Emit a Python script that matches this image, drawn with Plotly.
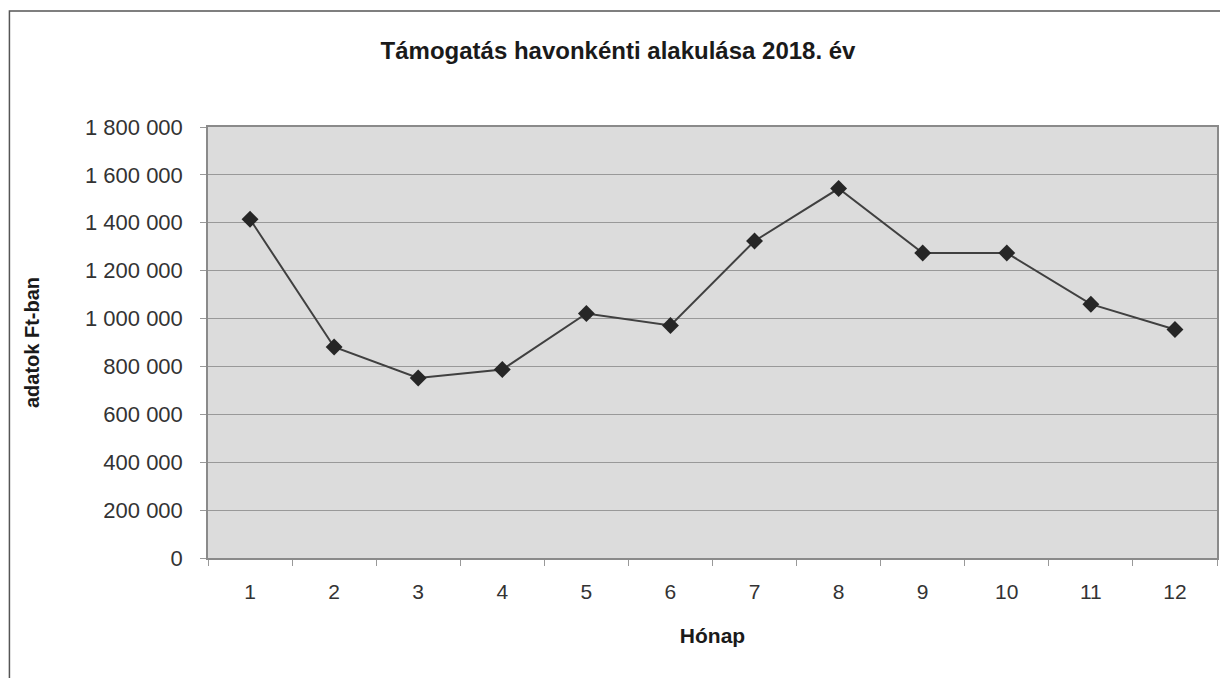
import plotly.graph_objects as go

# havi támogatás (Ft)
months = ["1", "2", "3", "4", "5", "6", "7", "8", "9", "10", "11", "12"]
support_ft = [1415000, 881000, 752000, 787000, 1021000, 971000,
              1324000, 1543000, 1274000, 1274000, 1060000, 954000]
y_ticks = [0, 200000, 400000, 600000, 800000, 1000000,
           1200000, 1400000, 1600000, 1800000]

font_family = "Liberation Sans, Arial, sans-serif"

fig = go.Figure()
fig.add_trace(
    go.Scatter(
        x=months,
        y=support_ft,
        mode="lines+markers",
        line=dict(color="#404040", width=2),
        marker=dict(symbol="diamond", size=13, color="#262626"),
        showlegend=False,
    )
)

# a body 8px-es margója miatt a figura kisebb, hogy beférjen az ablakba
fig.update_layout(
    width=1220,
    height=670,
    margin=dict(l=200, r=9, t=119, b=120),
    paper_bgcolor="white",
    plot_bgcolor="#dcdcdc",
    separators=", ",
    font=dict(family=font_family, color="#333333", size=22),
    title=dict(
        text="<b>Támogatás havonkénti alakulása 2018. év</b>",
        x=0.5,
        xanchor="center",
        y=0.936,
        yanchor="middle",
        font=dict(size=24, color="#1a1a1a"),
    ),
    xaxis=dict(
        type="category",
        range=[-0.5, 11.5],
        tickson="boundaries",
        ticks="outside",
        ticklen=6,
        tickcolor="#999999",
        ticklabelstandoff=14,
        showgrid=False,
        showline=True,
        linecolor="#8a8a8a",
        linewidth=1.5,
        mirror=True,
        title=dict(text="<b>Hónap</b>", font=dict(size=21, color="#1a1a1a"), standoff=26),
        tickfont=dict(size=21),
    ),
    yaxis=dict(
        range=[0, 1800000],
        tickvals=y_ticks,
        tickformat=",d",
        ticks="outside",
        ticklen=6,
        tickcolor="#999999",
        ticklabelstandoff=13,
        showgrid=True,
        gridcolor="#999999",
        gridwidth=1,
        showline=True,
        linecolor="#8a8a8a",
        linewidth=1.5,
        mirror=True,
        zeroline=False,
        title=dict(text="<b>adatok Ft-ban</b>", font=dict(size=20, color="#1a1a1a"), standoff=40),
        tickfont=dict(size=22),
    ),
)

# keret a diagram körül
fig.add_shape(
    type="rect",
    xref="paper",
    yref="paper",
    x0=-0.1968,
    x1=1.005,
    y0=-0.5,
    y1=1.269,
    line=dict(color="#555555", width=1.5),
    fillcolor="rgba(0,0,0,0)",
    layer="below",
)

fig.write_html("out.html")
